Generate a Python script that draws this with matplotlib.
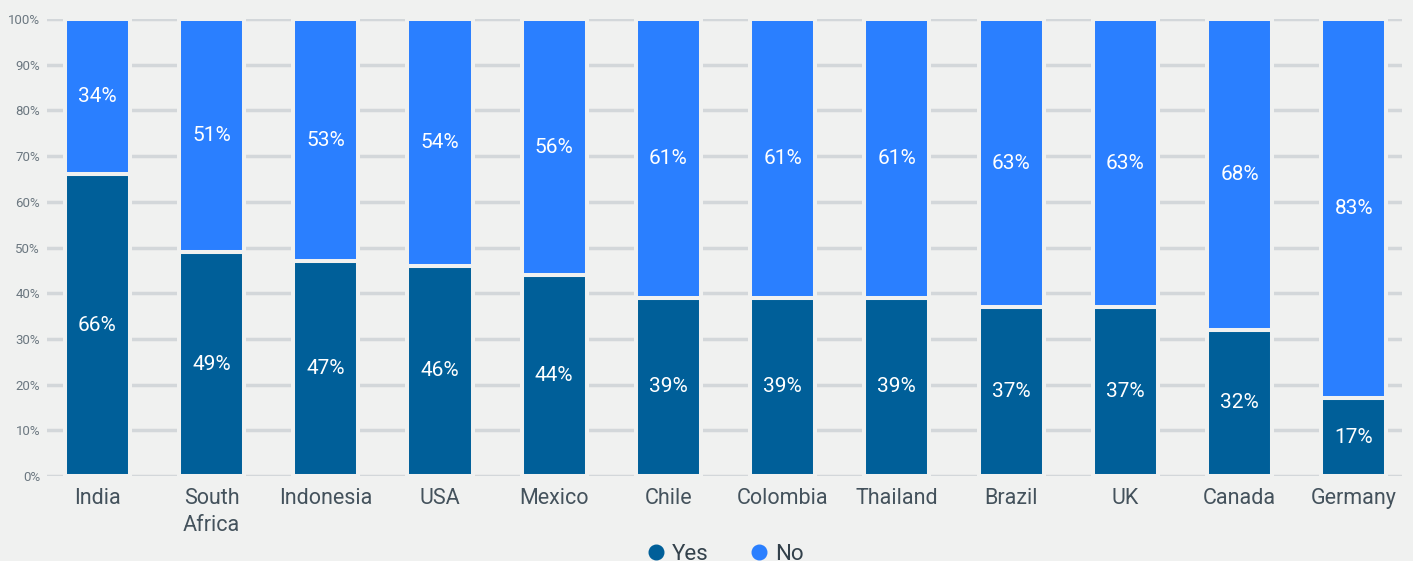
import matplotlib
matplotlib.use("Agg")
import matplotlib.pyplot as plt
from matplotlib.lines import Line2D

plt.rcParams['font.family'] = ['Roboto', 'DejaVu Sans']

countries = ["India", "South\nAfrica", "Indonesia", "USA", "Mexico", "Chile",
             "Colombia", "Thailand", "Brazil", "UK", "Canada", "Germany"]
yes_vals = [66, 49, 47, 46, 44, 39, 39, 39, 37, 37, 32, 17]
no_vals = [34, 51, 53, 54, 56, 61, 61, 61, 63, 63, 68, 83]
y_ticks = [0, 10, 20, 30, 40, 50, 60, 70, 80, 90, 100]

bg = "#f0f1f0"
yes_color = "#005f99"
no_color = "#2a7fff"
grid_color = "#d3d7da"

fig = plt.figure(figsize=(14.13, 5.61), dpi=100, facecolor=bg)
ax = fig.add_axes([0.0333, 0.1515, 0.9587, 0.8145], facecolor=bg)

x = list(range(len(countries)))
width = 0.57
edge_lw = 2.9
ax.bar(x, yes_vals, width=width, color=yes_color, edgecolor=bg,
       linewidth=edge_lw, zorder=3)
ax.bar(x, no_vals, width=width, bottom=yes_vals, color=no_color, edgecolor=bg,
       linewidth=edge_lw, zorder=3)

for xi, y, n in zip(x, yes_vals, no_vals):
    ax.text(xi, y / 2, f"{y}%", ha="center", va="center", color="white",
            fontsize=15, zorder=4)
    ax.text(xi, y + n / 2, f"{n}%", ha="center", va="center", color="white",
            fontsize=15, zorder=4)

ax.set_xlim(-0.44, 11.42)
ax.set_ylim(0, 100)
ax.set_yticks(y_ticks)
ax.set_yticklabels([f"{t}%" for t in y_ticks], fontsize=9.5, color="#6b7780")
ax.set_xticks(x)
ax.set_xticklabels(countries, fontsize=15.5, color="#44525c", linespacing=1.4,
                   va="top")
ax.tick_params(axis="both", length=0)
ax.tick_params(axis="x", pad=8.5)
ax.tick_params(axis="y", pad=5)
ax.yaxis.grid(True, color=grid_color, linewidth=2.5, zorder=0)
ax.set_axisbelow(True)
for s in ax.spines.values():
    s.set_visible(False)

handles = [
    Line2D([], [], marker="o", linestyle="none", markersize=10.5,
           markerfacecolor=yes_color, markeredgecolor=yes_color, label="Yes"),
    Line2D([], [], marker="o", linestyle="none", markersize=10.5,
           markerfacecolor=no_color, markeredgecolor=no_color, label="No"),
]
fig.legend(handles=handles, loc="center", bbox_to_anchor=(0.5125, 0.012), ncol=2,
           frameon=False, fontsize=16, handlelength=1.0, handletextpad=0.2,
           columnspacing=1.8, labelcolor="#33414b")

fig.savefig("out.png", dpi=100, facecolor=bg)
